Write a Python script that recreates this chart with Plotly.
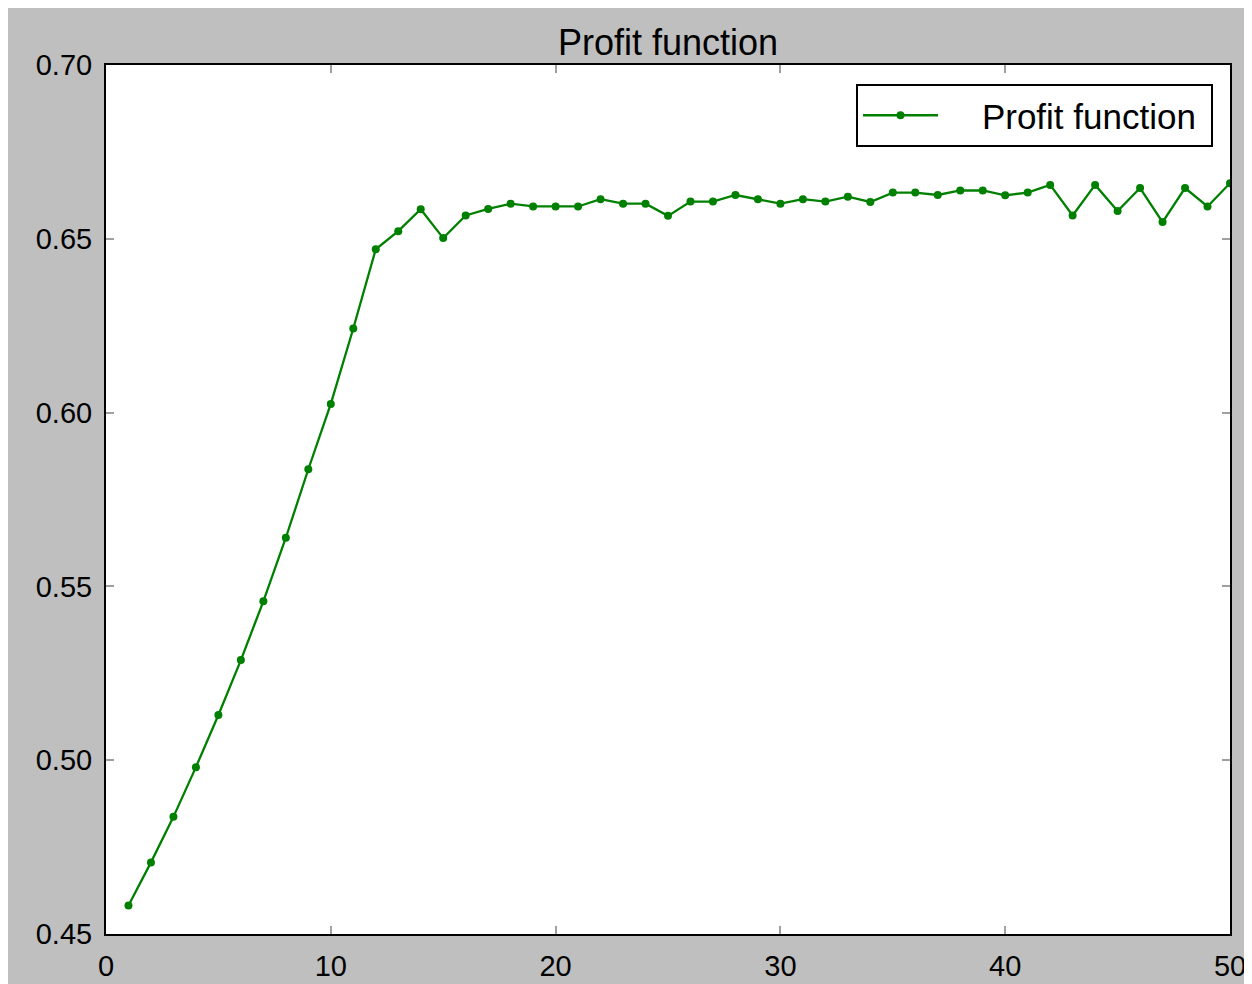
import plotly.graph_objects as go

# Data
iterations = list(range(1, 51))
profit = [
    0.4582, 0.4706, 0.4837, 0.4980, 0.5130, 0.5288, 0.5457, 0.5640, 0.5837, 0.6025,
    0.6242, 0.6470, 0.6522, 0.6585, 0.6502, 0.6567, 0.6586, 0.6601, 0.6593, 0.6593,
    0.6593, 0.6614, 0.6601, 0.6601, 0.6566, 0.6607, 0.6607, 0.6626, 0.6614, 0.6601,
    0.6614, 0.6607, 0.6621, 0.6606, 0.6633, 0.6633, 0.6626, 0.6639, 0.6639, 0.6625,
    0.6633, 0.6655, 0.6567, 0.6655, 0.6580, 0.6646, 0.6548, 0.6646, 0.6593, 0.6660,
]
series_name = "Profit function"
chart_title = "Profit function"
x_ticks = [0, 10, 20, 30, 40, 50]
y_ticks = [0.45, 0.50, 0.55, 0.60, 0.65, 0.70]

# The page body has an 8px margin; the figure is sized so that it fits the window
OFF = 8
W, H = 1252 - OFF, 984 - OFF
L, R, T, B = 106 - OFF, 22, 65 - OFF, 50
pw, ph = W - L - R, H - T - B

def px_to_paper_x(px):  # page pixel -> paper coord
    return (px - OFF - L) / pw

def px_to_paper_y(py):
    return (H - B - (py - OFF)) / ph

GREEN = "#008000"
FONT = "Liberation Sans, Arial, sans-serif"
NB = "\u00a0"

fig = go.Figure()
fig.add_trace(go.Scatter(
    x=iterations, y=profit, mode="lines+markers",
    name=NB * 4 + series_name + NB,
    line=dict(color=GREEN, width=2.3),
    marker=dict(color=GREEN, size=8),
))

fig.update_layout(
    width=W, height=H,
    margin=dict(l=L, r=R, t=T, b=B, autoexpand=False),
    paper_bgcolor="#bfbfbf",
    plot_bgcolor="white",
    title=dict(text=chart_title, x=0.5, xref="paper", y=1 - (42 - OFF) / H, yref="container",
               xanchor="center", yanchor="middle",
               font=dict(family=FONT, size=36, color="black")),
    font=dict(family=FONT, color="black"),
    showlegend=True,
    legend=dict(
        x=px_to_paper_x(1213), y=px_to_paper_y(84), xanchor="right", yanchor="top",
        bgcolor="white", bordercolor="black", borderwidth=2,
        font=dict(family=FONT, size=35, color="black"),
        itemwidth=75,
    ),
)

fig.update_xaxes(
    range=[0, 50], tickvals=x_ticks, ticktext=[str(v) for v in x_ticks],
    showgrid=False, zeroline=False,
    showline=True, linecolor="black", linewidth=2, mirror="allticks",
    ticks="inside", ticklen=8, tickwidth=2, tickcolor="#a0a0a0",
    tickfont=dict(family=FONT, size=29, color="black"),
    ticklabelstandoff=5,
)
fig.update_yaxes(
    range=[0.45, 0.70], tickvals=y_ticks, ticktext=[f"{v:.2f}" for v in y_ticks],
    showgrid=False, zeroline=False,
    showline=True, linecolor="black", linewidth=2, mirror="allticks",
    ticks="inside", ticklen=8, tickwidth=2, tickcolor="#a0a0a0",
    tickfont=dict(family=FONT, size=29, color="black"),
    ticklabelstandoff=6,
)

fig.write_html("out.html")
